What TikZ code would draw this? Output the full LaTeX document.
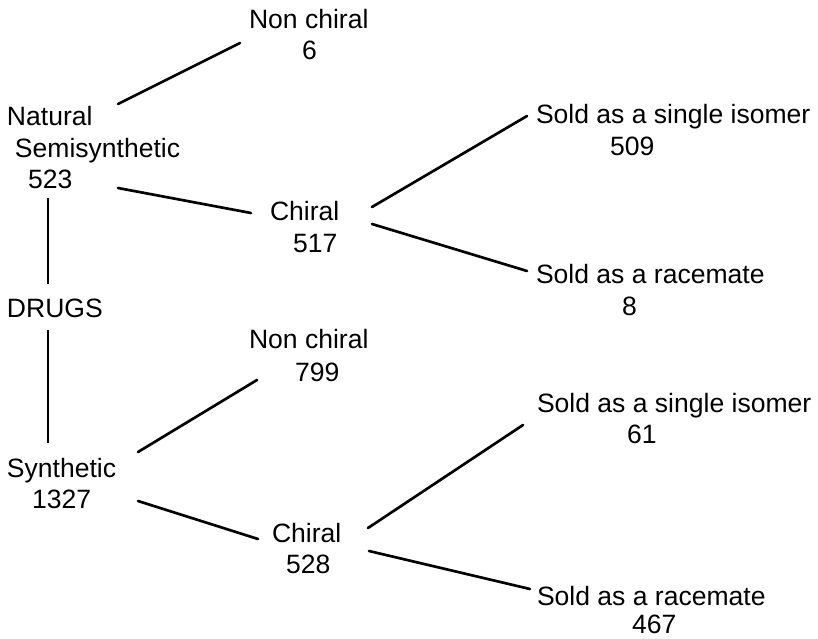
\documentclass[tikz,border=0pt]{standalone}
\usepackage{fontspec}
\setmainfont{Liberation Sans}
\usetikzlibrary{calc}

\tikzset{
  lbl/.style={anchor=base west, inner sep=0pt, outer sep=0pt,
              font=\fontsize{19.9}{24}\selectfont},
  branch/.style={line width=2pt, line cap=round},
  trunk/.style={line width=1.4pt, line cap=butt}
}

\begin{document}
\begin{tikzpicture}[x=0.75pt, y=-0.75pt]
  \useasboundingbox (0,0) rectangle (818,639);

  % natural / semisynthetic branch
  \node[lbl] (ncA)  at (249,28)  {Non chiral};
  \node[lbl] (ncAn) at (302,60)  {6};
  \node[lbl] (nat)  at (7,125)   {Natural};
  \node[lbl] (semi) at (15,157)  {Semisynthetic};
  \node[lbl] (natn) at (28,188)  {523};
  \node[lbl] (chA)  at (270,220) {Chiral};
  \node[lbl] (chAn) at (293,252) {517};
  \node[lbl] (siA)  at (536,123) {Sold as a single isomer};
  \node[lbl] (siAn) at (610,155) {509};
  \node[lbl] (rcA)  at (536,283) {Sold as a racemate};
  \node[lbl] (rcAn) at (622,315) {8};

  % root
  \node[lbl] (drugs) at (7,317) {DRUGS};

  % synthetic branch
  \node[lbl] (ncB)  at (249,348) {Non chiral};
  \node[lbl] (ncBn) at (295,381) {799};
  \node[lbl] (siB)  at (537,412) {Sold as a single isomer};
  \node[lbl] (siBn) at (627,443) {61};
  \node[lbl] (syn)  at (7,477)   {Synthetic};
  \node[lbl] (synn) at (32,508)  {1327};
  \node[lbl] (chB)  at (272,542) {Chiral};
  \node[lbl] (chBn) at (286,573) {528};
  \node[lbl] (rcB)  at (537,605) {Sold as a racemate};
  \node[lbl] (rcBn) at (632,633) {467};

  % trunk
  \draw[trunk] ($(natn.base west)+(20,10)$) -- ($(drugs.base west)+(41,-33)$);
  \draw[trunk] ($(drugs.base west)+(41,13)$) -- ($(syn.base west)+(41,-34)$);

  % branches
  \draw[branch] ($(nat.base west)+(111,-21)$) -- ($(ncA.base west)+(-9,15)$);
  \draw[branch] ($(natn.base west)+(90,0)$) -- ($(chA.base west)+(-19,-7)$);
  \draw[branch] ($(chA.base west)+(102,-13)$) -- ($(siA.base west)+(-9,-7)$);
  \draw[branch] ($(chA.base west)+(102,4)$) -- ($(rcA.base west)+(-9,-12)$);
  \draw[branch] ($(syn.base west)+(131,-25)$) -- ($(ncB.base west)+(8,32)$);
  \draw[branch] ($(synn.base west)+(106,-7)$) -- ($(chB.base west)+(-14,-3)$);
  \draw[branch] ($(chB.base west)+(96,-14)$) -- ($(siB.base west)+(-14,13)$);
  \draw[branch] ($(chB.base west)+(97,9)$) -- ($(rcB.base west)+(-7,-16)$);
\end{tikzpicture}
\end{document}
